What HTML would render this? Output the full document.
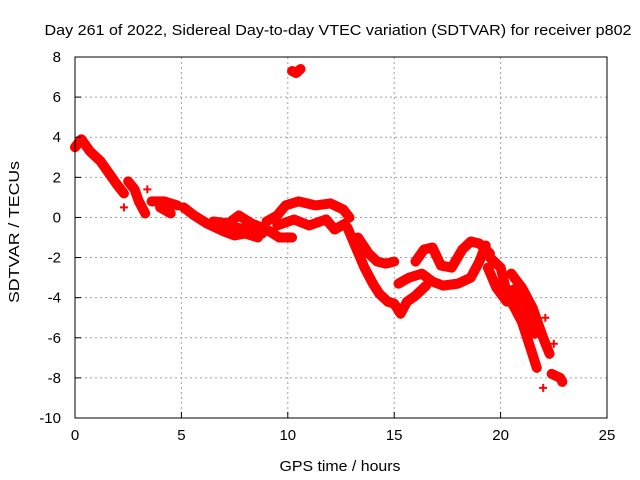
<!DOCTYPE html>
<html><head><meta charset="utf-8"><style>
body{margin:0;background:#fff}
svg{display:block;font-family:"Liberation Sans",sans-serif}
</style></head><body>
<svg id="c" width="640" height="480">
<text x="338" y="35" text-anchor="middle" font-size="15" textLength="587" lengthAdjust="spacingAndGlyphs">Day 261 of 2022, Sidereal Day-to-day VTEC variation (SDTVAR) for receiver p802</text>
<text x="340" y="471" text-anchor="middle" font-size="15" textLength="121" lengthAdjust="spacingAndGlyphs">GPS time / hours</text>
<text transform="translate(19,232) rotate(-90)" text-anchor="middle" font-size="15" textLength="142" lengthAdjust="spacingAndGlyphs">SDTVAR / TECUs</text>
<g id="grid"></g><g id="marks"></g>
<rect x="75" y="57" width="532" height="361" fill="none" stroke="#000"/>
<g id="ticks"></g>
</svg>
<script>
const xTicks=[0,5,10,15,20,25];
const yTicks=[8,6,4,2,0,-2,-4,-6,-8,-10];
const track1=[[0,3.5],[0.3,3.9],[0.7,3.3],[1.2,2.8],[1.6,2.2],[2.0,1.6],[2.3,1.2]];
const track2=[[2.5,1.8],[2.8,1.4],[3.0,0.8],[3.3,0.2]];
const track3=[[3.6,0.8],[4.2,0.8],[4.8,0.6]];
const track4=[[4.0,0.5],[4.5,0.2]];
const track5=[[5.1,0.5],[5.6,0.1],[6.2,-0.3],[7.0,-0.7],[7.5,-0.9],[8.0,-0.8],[8.6,-1.0]];
const track6=[[6.5,-0.2],[7.2,-0.3],[7.7,0.1],[8.3,-0.3],[9.0,-0.6],[9.6,-1.0],[10.2,-1.0]];
const track6b=[[6.8,-0.5],[7.5,-0.5],[8.2,-0.6],[8.8,-0.8]];
const track7=[[9.0,-0.2],[9.5,0.1],[9.9,0.6],[10.5,0.8],[11.3,0.6],[12.0,0.7],[12.6,0.4],[12.9,0.0]];
const track8=[[9.5,-0.4],[10.3,-0.1],[11.0,-0.4],[11.8,-0.1],[12.2,-0.6],[12.7,-0.3]];
const track9=[[10.2,7.3],[10.4,7.2],[10.6,7.4]];
const track10=[[12.8,-0.5],[13.2,-1.5],[13.6,-2.5],[14.0,-3.3],[14.3,-3.8],[14.7,-4.2],[15.0,-4.3],[15.3,-4.8],[15.6,-4.2],[16.0,-3.9],[16.5,-3.4]];
const track11=[[13.3,-1.0],[13.8,-1.8],[14.2,-2.2],[14.6,-2.3],[15.0,-2.2]];
const track12=[[15.2,-3.3],[15.7,-3.0],[16.3,-2.8],[16.8,-3.2],[17.3,-3.4],[18.0,-3.3],[18.6,-3.0],[19.0,-2.2],[19.3,-1.4]];
const track13=[[16.0,-2.2],[16.4,-1.6],[16.8,-1.5],[17.2,-2.4],[17.7,-2.5],[18.2,-1.6],[18.6,-1.2],[19.0,-1.3],[19.5,-1.8]];
const track14=[[19.5,-2.0],[20.0,-2.5],[20.3,-3.8],[20.7,-4.6],[21.0,-5.2],[21.4,-6.5],[21.7,-7.5]];
const track15=[[19.4,-2.5],[19.8,-3.5],[20.3,-4.2],[20.6,-3.6],[20.9,-4.0],[21.3,-4.8],[21.6,-5.8]];
const track16=[[20.5,-2.8],[21.0,-3.5],[21.5,-4.5],[21.8,-5.4],[22.0,-6.0],[22.3,-6.8]];
const track17=[[22.4,-7.8],[22.8,-8.0],[22.9,-8.2]];
const scatter=[[22.0,-8.5],[22.5,-6.3],[22.1,-5.0],[2.3,0.5],[3.4,1.4]];
const tracks=[track1,track2,track3,track4,track5,track6,track6b,track7,track8,track9,track10,track11,track12,track13,track14,track15,track16,track17];
const X0=75,X1=607,Y0=57,Y1=418;
const sx=v=>X0+(v-0)/(25-0)*(X1-X0);
const sy=v=>Y0+(8-v)/(8-(-10))*(Y1-Y0);
const NS="http://www.w3.org/2000/svg";
const grid=document.getElementById('grid'),ticks=document.getElementById('ticks'),marks=document.getElementById('marks');
function mk(t,a,p){const e=document.createElementNS(NS,t);for(const k in a)e.setAttribute(k,a[k]);p.appendChild(e);return e;}
xTicks.forEach(t=>{const x=sx(t);
 if(t>0&&t<25){const g=mk('line',{x1:x,x2:x,y1:Y0,y2:Y1,stroke:'#a0a0a0','stroke-dasharray':'2,3'},grid);
 
 }
 const l=mk('line',{x1:x,x2:x,y1:Y1,y2:Y1-6,stroke:'#000'},ticks);
 
 
 const tx=mk('text',{x:x,y:Y1+22,'text-anchor':'middle','font-size':15},ticks);tx.textContent=t;
 
 
});
yTicks.forEach(t=>{const y=sy(t);
 if(t>-10&&t<8){const g=mk('line',{x1:X0,x2:X1,y1:y,y2:y,stroke:'#a0a0a0','stroke-dasharray':'2,3'},grid);
 
 }
 const l=mk('line',{x1:X0,x2:X0+6,y1:y,y2:y,stroke:'#000'},ticks);
 
 
 const tx=mk('text',{x:X0-14,y:y+5,'text-anchor':'end','font-size':15},ticks);tx.textContent=t;
 
 
});
tracks.forEach(tr=>{
 const p=mk('polyline',{points:tr.map(d=>sx(d[0])+','+sy(d[1])).join(' '),fill:'none',stroke:'#f00','stroke-width':10,'stroke-linejoin':'round','stroke-linecap':'round'},marks);
 
 
});
scatter.concat(...tracks).forEach(d=>{const x=sx(d[0]),y=sy(d[1]);
 const m=mk('path',{d:`M${x-4},${y}h8M${x},${y-4}v8`,stroke:'#f00','stroke-width':2},marks);
 
 
});
</script>
</body></html>
